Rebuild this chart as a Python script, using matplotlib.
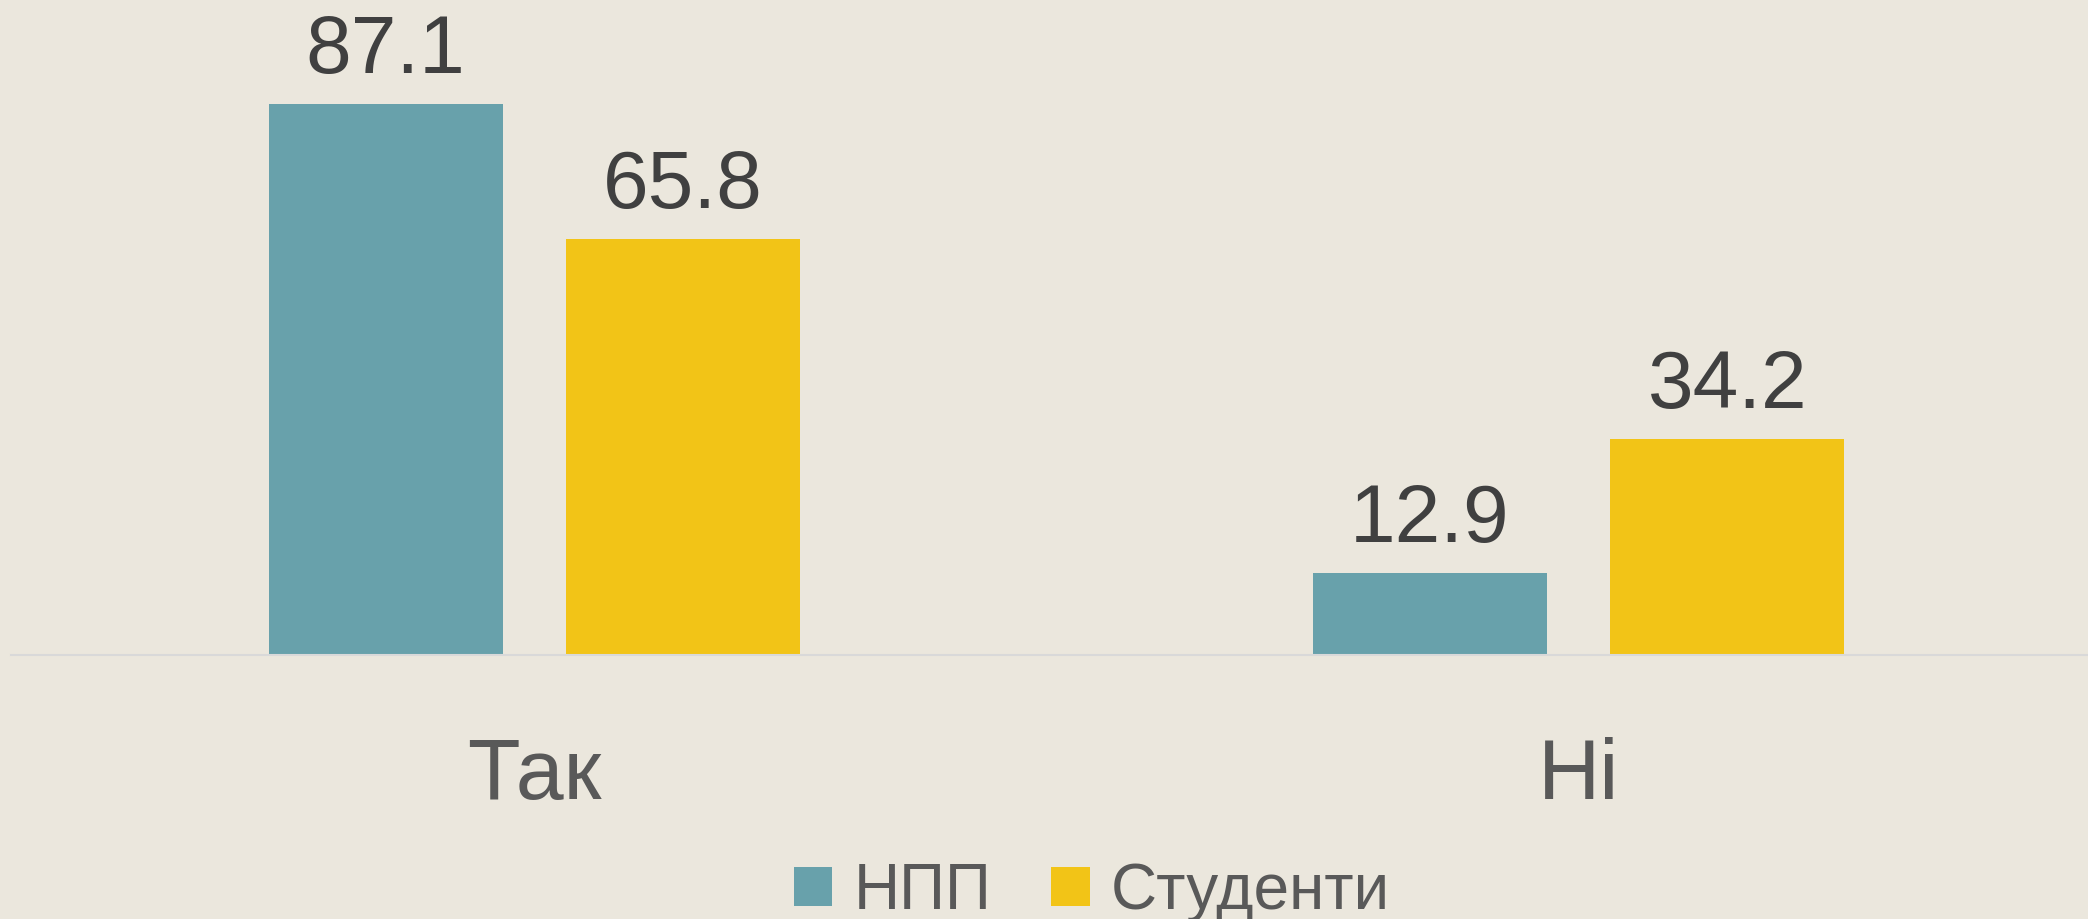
import matplotlib
matplotlib.use("Agg")
import matplotlib.pyplot as plt
import numpy as np

plt.rcParams['font.family'] = ['Liberation Sans', 'DejaVu Sans']

categories = ['Так', 'Ні']
series_names = ['НПП', 'Студенти']
npp = [87.1, 12.9]
students = [65.8, 34.2]

bg = '#EBE7DD'
colors = ['#68A1AB', '#F2C417']

fig = plt.figure(figsize=(20.88, 9.19), dpi=100, facecolor=bg)
ax = fig.add_axes([11/2088, 1 - 655/919, 2077/2088, 655/919])
ax.set_facecolor(bg)

x = np.arange(len(categories))
w = 0.224
off = 0.1425
b1 = ax.bar(x - off, npp, w, color=colors[0], label=series_names[0])
b2 = ax.bar(x + off, students, w, color=colors[1], label=series_names[1])

for b in (b1, b2):
    ax.bar_label(b, labels=[f'{v:.1f}' for v in b.datavalues], padding=10,
                 fontsize=59, color='#404040')

ax.set_xlim(-0.5014, 1.488)
ax.set_ylim(0, 103.5)
ax.set_yticks([])
ax.set_xticks(x)
ax.set_xticklabels(categories, fontsize=62, color='#595959')
ax.tick_params(axis='x', length=0, pad=59)
for s in ['top', 'right', 'left']:
    ax.spines[s].set_visible(False)
ax.spines['bottom'].set_color('#D9D9D9')
ax.spines['bottom'].set_linewidth(1.5)

leg = fig.legend(handles=[b1, b2], loc='center', bbox_to_anchor=(1092/2088, 0.0295),
                 ncol=2, frameon=False, fontsize=46, handlelength=0.6,
                 handleheight=0.55, handletextpad=0.33, columnspacing=0.94,
                 borderpad=0)
for t in leg.get_texts():
    t.set_color('#595959')

fig.savefig('out.png', dpi=100, facecolor=bg)
